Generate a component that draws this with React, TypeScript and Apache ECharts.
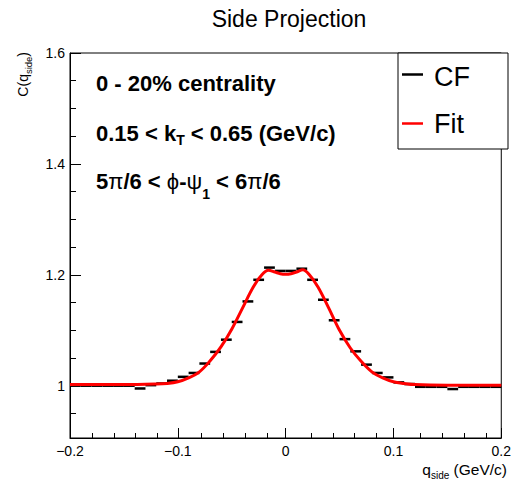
import React, { useEffect, useRef } from 'react';
import * as echarts from 'echarts';

const FONT = '"Liberation Sans", Arial, Helvetica, sans-serif';

// CF histogram: bin centres (bin width 0.01 GeV/c) and values
const cfQ = [
  -0.195, -0.185, -0.175, -0.165, -0.155, -0.145, -0.135, -0.125, -0.115, -0.105,
  -0.095, -0.085, -0.075, -0.065, -0.055, -0.045, -0.035, -0.025, -0.015, -0.005,
  0.005, 0.015, 0.025, 0.035, 0.045, 0.055, 0.065, 0.075, 0.085, 0.095,
  0.105, 0.115, 0.125, 0.135, 0.145, 0.155, 0.165, 0.175, 0.185, 0.195,
];
const cfC = [
  1.0, 1.0, 1.0, 1.0, 1.0, 1.0, 0.995, 1.001, 1.004, 1.009,
  1.016, 1.023, 1.04, 1.061, 1.083, 1.115, 1.152, 1.191, 1.213, 1.207,
  1.207, 1.211, 1.191, 1.155, 1.118, 1.084, 1.062, 1.038, 1.023, 1.015,
  1.006, 1.003, 0.998, 0.998, 0.998, 0.994, 0.998, 0.998, 0.998, 0.998,
];
const binHalfWidth = 0.005;

// Fit curve
const fitQ = [
  -0.2, -0.15, -0.12, -0.11, -0.1, -0.09, -0.08, -0.07, -0.06, -0.05, -0.04, -0.03, -0.022, -0.016, -0.01, -0.005,
  0, 0.005, 0.01, 0.016, 0.022, 0.03, 0.04, 0.05, 0.06, 0.07, 0.08, 0.09, 0.1, 0.11, 0.12, 0.15, 0.2,
];
const fitC = [
  1.002, 1.002, 1.003, 1.004, 1.007, 1.014, 1.025, 1.045, 1.07, 1.102, 1.14, 1.178, 1.2, 1.208, 1.205, 1.202,
  1.201, 1.202, 1.205, 1.209, 1.2, 1.178, 1.14, 1.1, 1.068, 1.044, 1.025, 1.014, 1.007, 1.004, 1.002, 1.001, 1.001,
];

const xMajorTicks = [-0.2, -0.1, 0, 0.1, 0.2];
const xMinorTicks = [-0.18, -0.16, -0.14, -0.12, -0.08, -0.06, -0.04, -0.02, 0.02, 0.04, 0.06, 0.08, 0.12, 0.14, 0.16, 0.18];
const yMajorTicks = [1, 1.2, 1.4, 1.6];
const yMinorTicks = [0.95, 1.05, 1.1, 1.15, 1.25, 1.3, 1.35, 1.45, 1.5, 1.55];

const X_MIN = -0.2;
const X_MAX = 0.2;
const Y_MIN = 0.9057;
const Y_MAX = 1.6;

const GRID = { left: 70, right: 6, top: 53, bottom: 44 };

const fmtX = (v: number) => (v === 0 ? '0' : v < 0 ? '\u2212' + String(-v) : String(v));

export default function App() {
  const ref = useRef<HTMLDivElement>(null);

  useEffect(() => {
    if (!ref.current) return;
    const chart = echarts.init(ref.current, undefined, { renderer: 'svg' });

    const mainTok = { fontSize: 22, fontWeight: 'bold', fontFamily: FONT, fill: '#000', verticalAlign: 'top' };
    const annRich = {
      b: { ...mainTok },
      g: { ...mainTok, fontWeight: 'normal' },
      s1: { fontSize: 14, fontWeight: 'bold', fontFamily: FONT, fill: '#000', lineHeight: 24.5, verticalAlign: 'bottom' },
      s2: { fontSize: 14, fontWeight: 'bold', fontFamily: FONT, fill: '#000', lineHeight: 31, verticalAlign: 'bottom' },
    };
    const ann = (y: number, text: string) => ({
      type: 'text', x: 96, y, z: 10,
      style: { text, align: 'left', verticalAlign: 'top', rich: annRich },
    });

    chart.setOption({
      animation: false,
      backgroundColor: '#fff',
      grid: [
        { ...GRID, show: true, borderColor: '#000', borderWidth: 1, backgroundColor: 'transparent' },
        { ...GRID, show: false },
      ],
      xAxis: [
        {
          type: 'value', gridIndex: 0, min: X_MIN, max: X_MAX, position: 'bottom',
          axisLine: { show: true, onZero: false, lineStyle: { color: '#000', width: 1 } },
          axisTick: { show: true, inside: true, length: 10, customValues: xMajorTicks, lineStyle: { color: '#000', width: 1 } },
          axisLabel: { show: true, customValues: xMajorTicks, formatter: fmtX, color: '#000', fontSize: 14, fontFamily: FONT, margin: 6 },
          splitLine: { show: false },
        },
        {
          type: 'value', gridIndex: 1, min: X_MIN, max: X_MAX, position: 'bottom',
          axisLine: { show: false, onZero: false },
          axisTick: { show: true, inside: true, length: 5, customValues: xMinorTicks, lineStyle: { color: '#000', width: 1 } },
          axisLabel: { show: false },
          splitLine: { show: false },
        },
      ],
      yAxis: [
        {
          type: 'value', gridIndex: 0, min: Y_MIN, max: Y_MAX, position: 'left',
          axisLine: { show: true, onZero: false, lineStyle: { color: '#000', width: 1 } },
          axisTick: { show: true, inside: true, length: 11, customValues: yMajorTicks, lineStyle: { color: '#000', width: 1 } },
          axisLabel: { show: true, customValues: yMajorTicks, formatter: (v: number) => String(v), color: '#000', fontSize: 14, fontFamily: FONT, margin: 5 },
          splitLine: { show: false },
        },
        {
          type: 'value', gridIndex: 1, min: Y_MIN, max: Y_MAX, position: 'left',
          axisLine: { show: false, onZero: false },
          axisTick: { show: true, inside: true, length: 6, customValues: yMinorTicks, lineStyle: { color: '#000', width: 1 } },
          axisLabel: { show: false },
          splitLine: { show: false },
        },
      ],
      series: [
        {
          name: 'CF',
          type: 'custom',
          xAxisIndex: 0,
          yAxisIndex: 0,
          data: cfQ.map((q, i) => [q, cfC[i]]),
          renderItem: (params: any, api: any) => {
            const q = api.value(0);
            const c = api.value(1);
            const p1 = api.coord([q - binHalfWidth, c]);
            const p2 = api.coord([q + binHalfWidth, c]);
            return {
              type: 'line',
              shape: { x1: p1[0], y1: p1[1], x2: p2[0], y2: p2[1] },
              style: { stroke: '#000', lineWidth: 2.5 },
            };
          },
          z: 2,
        },
        {
          name: 'Fit',
          type: 'line',
          xAxisIndex: 0,
          yAxisIndex: 0,
          data: fitQ.map((q, i) => [q, fitC[i]]),
          smooth: 0.35,
          showSymbol: false,
          symbol: 'none',
          lineStyle: { color: '#ff0000', width: 3 },
          z: 3,
        },
      ],
      graphic: [
        {
          type: 'text', x: 289, y: 19, z: 10,
          style: { text: 'Side Projection', align: 'center', verticalAlign: 'middle', fontSize: 23, fontFamily: FONT, fill: '#000' },
        },
        ann(72, '{b|0 - 20% centrality}'),
        ann(122.5, '{b|0.15 < k}{s1|T}{b| < 0.65 (GeV/c)}'),
        ann(170, '{b|5}{g|\u03c0}{b|/6 < }{g|\u03d5}{b|-}{g|\u03c8}{s2|1}{b| < 6}{g|\u03c0}{b|/6}'),
        // legend box
        {
          type: 'rect', z: 20,
          shape: { x: 398, y: 53, width: 110, height: 96 },
          style: { fill: '#fff', stroke: '#000', lineWidth: 1 },
        },
        {
          type: 'line', z: 21,
          shape: { x1: 402, y1: 74.5, x2: 423, y2: 74.5 },
          style: { stroke: '#000', lineWidth: 2.5 },
        },
        {
          type: 'line', z: 21,
          shape: { x1: 402, y1: 123.5, x2: 423, y2: 123.5 },
          style: { stroke: '#ff0000', lineWidth: 2.5 },
        },
        {
          type: 'text', x: 434, y: 76.5, z: 21,
          style: { text: 'CF', align: 'left', verticalAlign: 'middle', fontSize: 27, fontFamily: FONT, fill: '#000' },
        },
        {
          type: 'text', x: 434, y: 123.5, z: 21,
          style: { text: 'Fit', align: 'left', verticalAlign: 'middle', fontSize: 27, fontFamily: FONT, fill: '#000' },
        },
        // axis titles
        {
          type: 'text', x: 16, y: 52, rotation: Math.PI / 2, z: 10,
          style: {
            text: '{m|C(q}{s|side}{m|)}', align: 'right', verticalAlign: 'top',
            rich: {
              m: { fontSize: 14, fontFamily: FONT, fill: '#000', verticalAlign: 'top' },
              s: { fontSize: 9.5, fontFamily: FONT, fill: '#000', lineHeight: 17, verticalAlign: 'bottom' },
            },
          },
        },
        {
          type: 'text', x: 507, y: 461, z: 10,
          style: {
            text: '{m|q}{s|side}{m| (GeV/c)}', align: 'right', verticalAlign: 'top',
            rich: {
              m: { fontSize: 15.5, fontFamily: FONT, fill: '#000', verticalAlign: 'top' },
              s: { fontSize: 10, fontFamily: FONT, fill: '#000', lineHeight: 19.5, verticalAlign: 'bottom' },
            },
          },
        },
      ],
    });

    return () => chart.dispose();
  }, []);

  return (
    <div
      ref={ref}
      style={{ position: 'fixed', left: 0, top: 0, width: 514, height: 482, background: '#fff' }}
    />
  );
}
